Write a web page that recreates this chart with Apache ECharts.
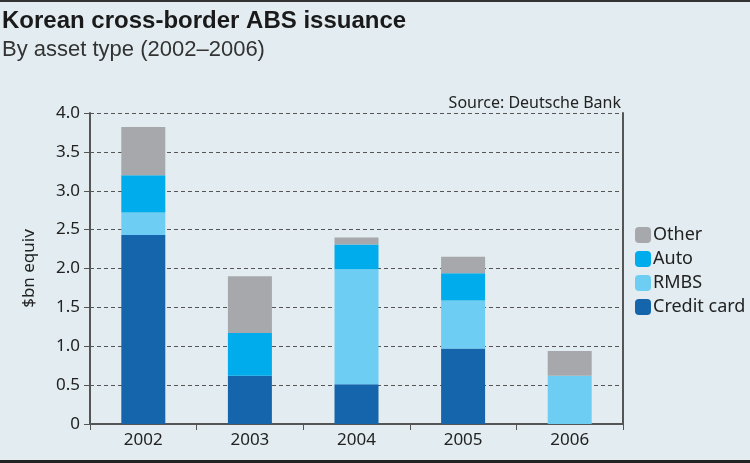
<!DOCTYPE html>
<html>
<head>
<meta charset="utf-8">
<script src="https://cdn.jsdelivr.net/npm/echarts@6/dist/echarts.min.js"></script>
<style>
  * { margin: 0; padding: 0; }
  body { background: #e3edf1; }
</style>
</head>
<body>
<div id="main" style="width:750px;height:463px;"></div>
<script>
// data ($bn equiv)
var years = ['2002', '2003', '2004', '2005', '2006'];
var creditCard = [2.43, 0.62, 0.51, 0.97, 0];
var rmbs = [0.29, 0, 1.48, 0.62, 0.62];
var auto = [0.48, 0.55, 0.32, 0.35, 0];
var other = [0.62, 0.73, 0.09, 0.21, 0.32];

var chart = echarts.init(document.getElementById('main'));
var axisColor = '#555';
var fontFam = '"Noto Sans", "Open Sans", sans-serif';

function bar(name, data, color) {
  return {
    name: name,
    type: 'bar',
    stack: 'abs',
    barWidth: 44,
    data: data,
    itemStyle: { color: color }
  };
}

chart.setOption({
  backgroundColor: '#e3edf1',
  animation: false,
  title: [
    {
      text: 'Korean cross-border ABS issuance',
      left: -3, top: 4,
      textStyle: { fontFamily: 'Liberation Sans, Arial, sans-serif', fontWeight: 'bold', fontSize: 24, color: '#1a1a1a' }
    },
    {
      text: 'By asset type (2002–2006)',
      left: -3, top: 34,
      textStyle: { fontFamily: 'Liberation Sans, Arial, sans-serif', fontWeight: 'normal', fontSize: 22, color: '#333' }
    },
    {
      text: 'Source: Deutsche Bank',
      right: 124, top: 90,
      textStyle: { fontFamily: fontFam, fontWeight: 'normal', fontSize: 16, color: '#222' }
    }
  ],
  legend: {
    orient: 'vertical',
    left: 630, top: 221,
    itemWidth: 16, itemHeight: 16, itemGap: 6,
    data: ['Other', 'Auto', 'RMBS', 'Credit card'],
    textStyle: { fontFamily: fontFam, fontSize: 18, color: '#222', padding: [0, 0, 0, -3] }
  },
  grid: { left: 90, right: 127, top: 113, bottom: 39 },
  xAxis: {
    type: 'category',
    data: years,
    axisLine: { lineStyle: { color: axisColor, width: 2 } },
    axisTick: { show: true, length: 6, lineStyle: { color: axisColor } },
    axisLabel: { fontFamily: fontFam, fontSize: 17, color: '#222', margin: 8 }
  },
  yAxis: [
    {
      type: 'value',
      min: 0, max: 4, interval: 0.5,
      name: '$bn equiv',
      nameLocation: 'middle',
      nameGap: 52,
      nameTextStyle: { fontFamily: fontFam, fontSize: 17, color: '#222' },
      axisLine: { show: true, lineStyle: { color: axisColor, width: 2 } },
      axisTick: { show: true, length: 6, lineStyle: { color: axisColor } },
      axisLabel: {
        fontFamily: fontFam, fontSize: 17, color: '#222', margin: 10,
        formatter: function (v) { return v === 0 ? '0' : v.toFixed(1); }
      },
      splitLine: { show: true, lineStyle: { color: '#555', type: [4, 3], width: 1 } }
    },
    {
      type: 'value',
      position: 'right',
      min: 0, max: 4, interval: 0.5,
      axisLine: { show: true, lineStyle: { color: axisColor, width: 2 } },
      axisTick: { show: false },
      axisLabel: { show: false },
      splitLine: { show: false }
    }
  ],
  series: [
    bar('Credit card', creditCard, '#1565ad'),
    bar('RMBS', rmbs, '#6dcdf3'),
    bar('Auto', auto, '#00acec'),
    bar('Other', other, '#a6a8ab')
  ],
  graphic: [
    { type: 'rect', shape: { x: 0, y: 0, width: 750, height: 2 }, style: { fill: '#333' } },
    { type: 'rect', shape: { x: 0, y: 460, width: 750, height: 3 }, style: { fill: '#222' } }
  ]
});
</script>
</body>
</html>
